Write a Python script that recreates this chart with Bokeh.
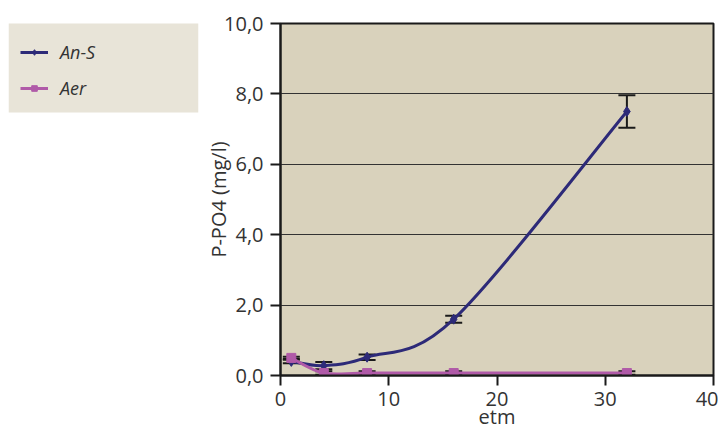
from bokeh.plotting import figure
from bokeh.layouts import row
from bokeh.models import (Range1d, Whisker, ColumnDataSource, Legend, LegendItem,
                          CustomJSTickFormatter, FixedTicker, TeeHead, BoxAnnotation)
from bokeh.embed import file_html
from bokeh.resources import INLINE

# ---- data ----
days = [1, 4, 8, 16, 32]
ans_vals = [0.40, 0.28, 0.52, 1.60, 7.50]
ans_err = [0.05, 0.10, 0.08, 0.10, 0.46]
aer_vals = [0.50, 0.07, 0.07, 0.07, 0.07]
aer_err = [0.03, 0.05, 0.05, 0.05, 0.05]
x_ticks = [0, 10, 20, 30, 40]
y_ticks = [0, 2, 4, 6, 8, 10]
series_names = ["An-S", "Aer"]

ANS_COLOR = "#2D2A78"
AER_COLOR = "#B05AA8"
TEXT_COLOR = "#333333"
FONT = "Open Sans"


def smooth_segments(xs, ys):
    """Excel-like smoothed line: cubic Bezier control points from the data."""
    n = len(xs)
    seg = dict(x0=[], y0=[], x1=[], y1=[], cx0=[], cy0=[], cx1=[], cy1=[])
    for i in range(n - 1):
        ip = max(i - 1, 0)
        inx = min(i + 2, n - 1)
        seg["x0"].append(xs[i]); seg["y0"].append(ys[i])
        seg["x1"].append(xs[i + 1]); seg["y1"].append(ys[i + 1])
        seg["cx0"].append(xs[i] + (xs[i + 1] - xs[ip]) / 6.0)
        seg["cy0"].append(ys[i] + (ys[i + 1] - ys[ip]) / 6.0)
        seg["cx1"].append(xs[i + 1] - (xs[inx] - xs[i]) / 6.0)
        seg["cy1"].append(ys[i + 1] - (ys[inx] - ys[i]) / 6.0)
    return seg


# ================= main chart =================
p = figure(width=518, height=439, output_backend="svg", toolbar_location=None,
           x_range=Range1d(0, 40), y_range=Range1d(0, 10),
           min_border_left=80, min_border_right=5, min_border_top=23,
           min_border_bottom=64)

p.border_fill_color = "white"
p.background_fill_color = "#D9D2BC"
p.outline_line_color = "#1a1a1a"
p.outline_line_width = 2

p.xgrid.visible = False
p.ygrid.grid_line_color = "#333333"
p.ygrid.grid_line_width = 1
p.ygrid.ticker = FixedTicker(ticks=y_ticks)

p.xaxis.ticker = FixedTicker(ticks=x_ticks)
p.yaxis.ticker = FixedTicker(ticks=y_ticks)
p.yaxis.formatter = CustomJSTickFormatter(code="return tick.toFixed(1).replace('.', ',');")

for ax in (p.xaxis, p.yaxis):
    ax.axis_line_color = "#1a1a1a"
    ax.axis_line_width = 2
    ax.major_tick_line_color = "#1a1a1a"
    ax.major_tick_line_width = 2
    ax.major_tick_in = 0
    ax.major_tick_out = 10
    ax.minor_tick_line_color = None
    ax.major_label_text_font = FONT
    ax.major_label_text_font_size = "20px"
    ax.major_label_text_color = TEXT_COLOR
    ax.axis_label_text_font = FONT
    ax.axis_label_text_font_size = "20px"
    ax.axis_label_text_font_style = "normal"
    ax.axis_label_text_color = TEXT_COLOR

p.xaxis.axis_label = "etm"
p.yaxis.axis_label = "P-PO4 (mg/l)"
p.xaxis.major_label_standoff = 6
p.xaxis.axis_label_standoff = -6
p.yaxis.major_label_standoff = 7
p.yaxis.axis_label_standoff = -11

# ---- error bars (under the lines) ----
src_ans = ColumnDataSource(dict(x=days, y=ans_vals,
                                lo=[v - e for v, e in zip(ans_vals, ans_err)],
                                hi=[v + e for v, e in zip(ans_vals, ans_err)]))
src_aer = ColumnDataSource(dict(x=days, y=aer_vals,
                                lo=[v - e for v, e in zip(aer_vals, aer_err)],
                                hi=[v + e for v, e in zip(aer_vals, aer_err)]))
for src in (src_aer, src_ans):
    w = Whisker(source=src, base="x", lower="lo", upper="hi", dimension="height",
                line_color="#1a1a1a", line_width=2, level="underlay",
                upper_head=TeeHead(size=17, line_color="#1a1a1a", line_width=2),
                lower_head=TeeHead(size=17, line_color="#1a1a1a", line_width=2))
    p.add_layout(w)

# ---- series ----
ans_seg = smooth_segments(days, ans_vals)
aer_seg = smooth_segments(days, aer_vals)

p.bezier(source=ColumnDataSource(ans_seg), x0="x0", y0="y0", x1="x1", y1="y1",
         cx0="cx0", cy0="cy0", cx1="cx1", cy1="cy1",
         line_color=ANS_COLOR, line_width=3)
p.scatter(x="x", y="y", source=src_ans, marker="diamond", size=10,
          fill_color=ANS_COLOR, line_color=ANS_COLOR)
p.bezier(source=ColumnDataSource(aer_seg), x0="x0", y0="y0", x1="x1", y1="y1",
         cx0="cx0", cy0="cy0", cx1="cx1", cy1="cy1",
         line_color=AER_COLOR, line_width=3)
p.scatter(x="x", y="y", source=src_aer, marker="square", size=9,
          fill_color=AER_COLOR, line_color=AER_COLOR)

# ================= legend panel =================
pl = figure(width=200, height=439, output_backend="svg", toolbar_location=None,
            x_range=Range1d(0, 40), y_range=Range1d(0, 10),
            x_axis_location=None, y_axis_location=None,
            min_border_left=8, min_border_right=2, min_border_top=23,
            min_border_bottom=64)
pl.outline_line_color = None
pl.background_fill_color = "white"
pl.border_fill_color = "white"
pl.grid.visible = False

# legend box (page-pixel placement, not data)
pl.add_layout(BoxAnnotation(left=8, right=198, top=22, bottom=112,
                            left_units="canvas", right_units="canvas",
                            top_units="canvas", bottom_units="canvas",
                            fill_color="#E8E4D8", fill_alpha=1, line_color=None))

l1 = pl.line(x="x", y="y", source=src_ans, line_color=ANS_COLOR, line_width=3, visible=False)
m1 = pl.scatter(x="x", y="y", source=src_ans, marker="diamond",
                fill_color=ANS_COLOR, line_color=ANS_COLOR, visible=False)
l2 = pl.line(x="x", y="y", source=src_aer, line_color=AER_COLOR, line_width=3, visible=False)
m2 = pl.scatter(x="x", y="y", source=src_aer, marker="square",
                fill_color=AER_COLOR, line_color=AER_COLOR, visible=False)

legend = Legend(items=[LegendItem(label=series_names[0], renderers=[l1, m1]),
                       LegendItem(label=series_names[1], renderers=[l2, m2])],
                location="top_left")
legend.background_fill_alpha = 0
legend.inactive_fill_alpha = 0
legend.border_line_color = None
legend.label_text_font = FONT
legend.label_text_font_size = "18px"
legend.label_text_font_style = "italic"
legend.label_text_color = TEXT_COLOR
legend.glyph_width = 28
legend.glyph_height = 14
legend.label_height = 34
legend.label_width = 100
legend.label_standoff = 12
legend.padding = 0
legend.spacing = 2
legend.margin = 12
pl.add_layout(legend)

layout = row(pl, p)

open("out.html", "w").write(file_html(layout, INLINE))
